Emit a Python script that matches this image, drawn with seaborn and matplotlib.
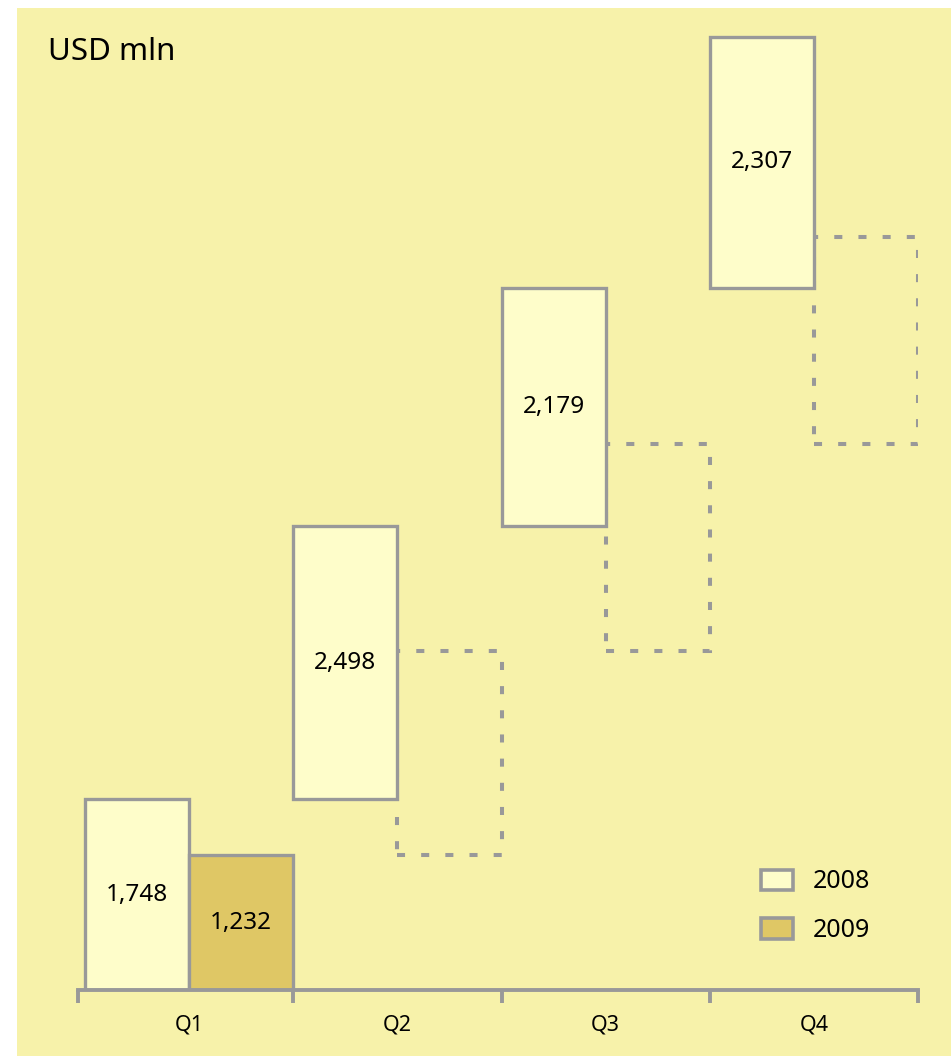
import numpy as np
import pandas as pd
import matplotlib.pyplot as plt
from matplotlib.patches import Patch, Rectangle
import seaborn as sns

quarters = ['Q1', 'Q2', 'Q3', 'Q4']
sales_2008 = [1748, 2498, 2179, 2307]
sales_2009 = [1232]
# empty dashed boxes for the 2009 quarters not reported yet
placeholder_2009 = [1875, 1895, 1895]

bg = '#F7F2AA'
c08 = '#FEFDCA'
c09 = '#DFC765'
edge = '#999999'

sns.set_theme(style='white', rc={'text.color': 'black', 'xtick.color': 'black'})
plt.rcParams['font.family'] = ['Noto Sans', 'DejaVu Sans']

fig = plt.figure(figsize=(9.51, 10.56), dpi=100)
fig.patch.set_facecolor('white')
fig.add_artist(Rectangle((17 / 951, 0), 1, 1048 / 1056, transform=fig.transFigure,
                         facecolor=bg, edgecolor='none', zorder=0))
ax = fig.add_axes([78 / 951, 66 / 1056, 840 / 951, 982 / 1056])
ax.set_facecolor('none')

df = pd.DataFrame({'quarter': quarters, 'value': sales_2008})
df['bottom'] = df['value'].cumsum() - df['value']
x = np.arange(len(quarters))

# 2008 waterfall
ax.bar(x - 0.25, df['value'], bottom=df['bottom'], width=0.5, color=c08,
       edgecolor=edge, linewidth=2.4, zorder=3)
for xi, b, v in zip(x, df['bottom'], df['value']):
    ax.text(xi - 0.25, b + v / 2, f'{v:,}', ha='center', va='center', fontsize=17.5,
            color='black', zorder=5)

# 2009
ax.bar(x[:1] + 0.25, sales_2009, width=0.5, color=c09, edgecolor=edge,
       linewidth=2.4, zorder=3)
for xi, v in zip(x[:1], sales_2009):
    ax.text(xi + 0.25, v / 2, f'{v:,}', ha='center', va='center', fontsize=17.5,
            color='black', zorder=5)

ph_bottom = sales_2009[-1] + np.cumsum([0] + placeholder_2009[:-1])
ax.bar(x[1:] + 0.25, placeholder_2009, bottom=ph_bottom, width=0.5, fill=False,
       edgecolor=edge, linewidth=2.9, linestyle=(0, (2.0, 4.0)), zorder=2)

x0 = -0.534
ax.set_xlim(x0, 3.5)
ax.set_ylim(0, 8993)
for s in ['left', 'right', 'top']:
    ax.spines[s].set_visible(False)
ax.spines['bottom'].set_color(edge)
ax.spines['bottom'].set_linewidth(2.8)
ax.spines['bottom'].set_zorder(4)
ax.set_yticks([])
ax.set_xticks([x0, 0.5, 1.5, 2.5, 3.5])
ax.set_xticklabels([])
ax.set_xticks(x, minor=True)
ax.set_xticklabels(quarters, minor=True)
ax.tick_params(axis='x', which='major', direction='out', length=9, width=2.8,
               color=edge, bottom=True)
ax.tick_params(axis='x', which='minor', length=0, pad=18, labelsize=15.5,
               labelcolor='black')

fig.text(48 / 951, 1 - 52 / 1056, 'USD mln', va='center', ha='left', fontsize=22.5,
         color='black')

handles = [Patch(facecolor=c08, edgecolor=edge, linewidth=2.6, label='2008'),
           Patch(facecolor=c09, edgecolor=edge, linewidth=2.6, label='2009')]
ax.legend(handles=handles, loc='upper left', bbox_to_anchor=(738 / 951, 1 - 847 / 1056),
          bbox_transform=fig.transFigure, frameon=False, fontsize=18,
          handlelength=1.3, handleheight=0.9, handletextpad=0.8, labelspacing=0.95,
          labelcolor='black')

fig.savefig('out.png', dpi=100)
